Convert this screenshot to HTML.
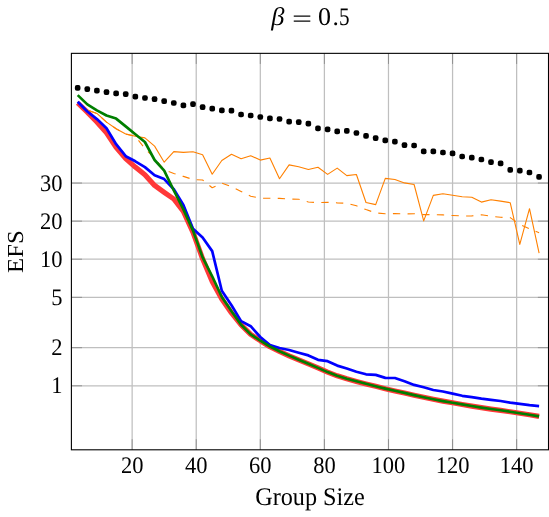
<!DOCTYPE html>
<html><head><meta charset="utf-8"><title>chart</title>
<style>
html,body{margin:0;padding:0;background:#fff;}
body{width:549px;height:517px;overflow:hidden;font-family:"Liberation Serif",serif;}
svg{display:block;}
</style></head><body>
<svg width="549" height="517" viewBox="0 0 549 517">
<rect width="549" height="517" fill="#fff"/>
<g stroke="#bfbfbf" stroke-width="1.25" fill="none">
<line x1="132.14" y1="53.35" x2="132.14" y2="449.8"/>
<line x1="196.22" y1="53.35" x2="196.22" y2="449.8"/>
<line x1="260.31" y1="53.35" x2="260.31" y2="449.8"/>
<line x1="324.39" y1="53.35" x2="324.39" y2="449.8"/>
<line x1="388.48" y1="53.35" x2="388.48" y2="449.8"/>
<line x1="452.56" y1="53.35" x2="452.56" y2="449.8"/>
<line x1="516.64" y1="53.35" x2="516.64" y2="449.8"/>
<line x1="71.4" y1="183.02" x2="548.5" y2="183.02"/>
<line x1="71.4" y1="221.12" x2="548.5" y2="221.12"/>
<line x1="71.4" y1="259.20" x2="548.5" y2="259.20"/>
<line x1="71.4" y1="297.32" x2="548.5" y2="297.32"/>
<line x1="71.4" y1="347.69" x2="548.5" y2="347.69"/>
<line x1="71.4" y1="385.79" x2="548.5" y2="385.79"/>
</g>
<g stroke="#808080" stroke-width="0.75" fill="none">
<line x1="132.14" y1="449.8" x2="132.14" y2="439.2"/>
<line x1="132.14" y1="53.35" x2="132.14" y2="63.95"/>
<line x1="196.22" y1="449.8" x2="196.22" y2="439.2"/>
<line x1="196.22" y1="53.35" x2="196.22" y2="63.95"/>
<line x1="260.31" y1="449.8" x2="260.31" y2="439.2"/>
<line x1="260.31" y1="53.35" x2="260.31" y2="63.95"/>
<line x1="324.39" y1="449.8" x2="324.39" y2="439.2"/>
<line x1="324.39" y1="53.35" x2="324.39" y2="63.95"/>
<line x1="388.48" y1="449.8" x2="388.48" y2="439.2"/>
<line x1="388.48" y1="53.35" x2="388.48" y2="63.95"/>
<line x1="452.56" y1="449.8" x2="452.56" y2="439.2"/>
<line x1="452.56" y1="53.35" x2="452.56" y2="63.95"/>
<line x1="516.64" y1="449.8" x2="516.64" y2="439.2"/>
<line x1="516.64" y1="53.35" x2="516.64" y2="63.95"/>
<line x1="71.4" y1="183.02" x2="82.0" y2="183.02"/>
<line x1="548.5" y1="183.02" x2="537.9" y2="183.02"/>
<line x1="71.4" y1="221.12" x2="82.0" y2="221.12"/>
<line x1="548.5" y1="221.12" x2="537.9" y2="221.12"/>
<line x1="71.4" y1="259.20" x2="82.0" y2="259.20"/>
<line x1="548.5" y1="259.20" x2="537.9" y2="259.20"/>
<line x1="71.4" y1="297.32" x2="82.0" y2="297.32"/>
<line x1="548.5" y1="297.32" x2="537.9" y2="297.32"/>
<line x1="71.4" y1="347.69" x2="82.0" y2="347.69"/>
<line x1="548.5" y1="347.69" x2="537.9" y2="347.69"/>
<line x1="71.4" y1="385.79" x2="82.0" y2="385.79"/>
<line x1="548.5" y1="385.79" x2="537.9" y2="385.79"/>
</g>
<g fill="none" stroke-linejoin="round">
<polyline points="77.7,103.0 87.3,112.1 96.9,122.0 106.5,132.8 116.1,147.4 125.7,158.6 135.3,167.1 144.9,174.7 154.6,185.4 164.2,192.3 173.8,199.0 183.4,211.5 193.0,232.3 202.6,258.8 212.2,281.4 221.8,299.0 231.5,313.0 241.1,324.9 250.7,334.4 260.3,340.7 269.9,346.7 279.5,351.4 289.1,355.8 298.7,359.9 308.4,363.8 318.0,367.9 327.6,372.1 337.2,375.8 346.8,378.8 356.4,381.4 366.0,383.9 375.7,386.2 385.3,388.7 394.9,390.9 404.5,393.0 414.1,395.2 423.7,397.3 433.3,399.3 442.9,401.1 452.6,402.8 462.2,404.5 471.8,406.1 481.4,407.6 491.0,409.1 500.6,410.4 510.2,411.8 519.8,413.2 529.5,414.8 539.1,416.4" stroke="#ff3838" stroke-width="5.15"/>
<polyline points="77.7,102.0 87.3,110.0 96.9,113.4 106.5,122.1 116.1,128.7 125.7,134.0 135.3,136.3 144.9,137.9 154.6,146.1 164.2,162.2 173.8,151.6 183.4,152.4 193.0,151.8 202.6,154.7 212.2,174.3 221.8,160.5 231.5,154.2 241.1,158.8 250.7,155.7 260.3,160.1 269.9,158.0 279.5,178.7 289.1,164.9 298.7,166.8 308.4,169.5 318.0,167.3 327.6,174.4 337.2,168.1 346.8,175.6 356.4,174.5 366.0,202.5 375.7,204.6 385.3,178.4 394.9,179.5 404.5,182.9 414.1,184.5 423.7,220.9 433.3,195.4 442.9,193.8 452.6,195.3 462.2,196.7 471.8,197.3 481.4,202.1 491.0,199.7 500.6,201.1 510.2,202.7 519.8,244.4 529.5,208.7 539.1,253.1" stroke="#ff8000" stroke-width="1.1"/>
<polyline points="77.7,102.0 87.3,110.0 96.9,113.4 106.5,122.1 116.1,128.7 125.7,134.0 135.3,136.3 144.9,148.6 154.6,158.2 164.2,169.9 173.8,173.5 183.4,176.4 193.0,179.5 202.6,180.0 212.2,187.8 221.8,183.1 231.5,186.7 241.1,191.5 250.7,196.2 260.3,198.2 269.9,198.2 279.5,198.4 289.1,199.0 298.7,199.3 308.4,202.0 318.0,202.6 327.6,202.3 337.2,202.9 346.8,203.2 356.4,205.8 366.0,209.6 375.7,212.9 385.3,213.8 394.9,213.6 404.5,214.0 414.1,213.7 423.7,214.6 433.3,214.7 442.9,214.9 452.6,215.5 462.2,216.0 471.8,215.9 481.4,214.8 491.0,216.2 500.6,217.3 510.2,217.6 519.8,224.3 529.5,228.9 539.1,232.7" stroke="#ff8000" stroke-width="1.1" stroke-dasharray="7.33 7.33" stroke-dashoffset="0"/>
<polyline points="77.7,101.7 87.3,111.5 96.9,119.1 106.5,128.2 116.1,144.2 125.7,156.2 135.3,161.3 144.9,167.1 154.6,175.3 164.2,179.1 173.8,189.2 183.4,205.0 193.0,228.7 202.6,237.5 212.2,251.1 221.8,290.7 231.5,305.2 241.1,321.1 250.7,326.2 260.3,337.0 269.9,345.1 279.5,348.0 289.1,350.0 298.7,352.8 308.4,355.4 318.0,359.8 327.6,361.2 337.2,365.6 346.8,368.5 356.4,371.7 366.0,374.3 375.7,374.9 385.3,377.9 394.9,378.0 404.5,381.2 414.1,384.9 423.7,387.3 433.3,390.0 442.9,391.5 452.6,393.6 462.2,395.8 471.8,397.2 481.4,398.7 491.0,399.8 500.6,401.0 510.2,402.7 519.8,403.9 529.5,405.2 539.1,406.1" stroke="#0000ff" stroke-width="2.7"/>
<polyline points="77.7,95.1 87.3,104.4 96.9,110.4 106.5,115.5 116.1,118.6 125.7,126.4 135.3,134.3 144.9,142.0 154.6,160.0 164.2,170.6 173.8,190.5 183.4,209.4 193.0,230.6 202.6,257.4 212.2,276.3 221.8,297.0 231.5,311.3 241.1,324.7 250.7,334.4 260.3,340.6 269.9,346.5 279.5,351.2 289.1,355.6 298.7,359.8 308.4,363.8 318.0,367.9 327.6,372.1 337.2,375.8 346.8,378.7 356.4,381.3 366.0,383.8 375.7,386.2 385.3,388.6 394.9,390.8 404.5,392.9 414.1,395.1 423.7,397.3 433.3,399.3 442.9,401.1 452.6,402.8 462.2,404.4 471.8,406.0 481.4,407.6 491.0,409.0 500.6,410.3 510.2,411.7 519.8,413.2 529.5,414.7 539.1,416.4" stroke="#007f00" stroke-width="2.65"/>
</g>
<g fill="#000">
<rect x="74.86" y="84.95" width="5.6" height="5.7" rx="2.0" ry="2.0"/>
<rect x="84.47" y="86.25" width="5.6" height="5.7" rx="2.0" ry="2.0"/>
<rect x="94.09" y="87.85" width="5.6" height="5.7" rx="2.0" ry="2.0"/>
<rect x="103.70" y="89.35" width="5.6" height="5.7" rx="2.0" ry="2.0"/>
<rect x="113.31" y="90.55" width="5.6" height="5.7" rx="2.0" ry="2.0"/>
<rect x="122.92" y="91.25" width="5.6" height="5.7" rx="2.0" ry="2.0"/>
<rect x="132.54" y="93.75" width="5.6" height="5.7" rx="2.0" ry="2.0"/>
<rect x="142.15" y="95.15" width="5.6" height="5.7" rx="2.0" ry="2.0"/>
<rect x="151.76" y="96.35" width="5.6" height="5.7" rx="2.0" ry="2.0"/>
<rect x="161.37" y="98.35" width="5.6" height="5.7" rx="2.0" ry="2.0"/>
<rect x="170.99" y="100.15" width="5.6" height="5.7" rx="2.0" ry="2.0"/>
<rect x="180.60" y="102.55" width="5.6" height="5.7" rx="2.0" ry="2.0"/>
<rect x="190.21" y="101.35" width="5.6" height="5.7" rx="2.0" ry="2.0"/>
<rect x="199.82" y="104.35" width="5.6" height="5.7" rx="2.0" ry="2.0"/>
<rect x="209.44" y="105.75" width="5.6" height="5.7" rx="2.0" ry="2.0"/>
<rect x="219.05" y="107.45" width="5.6" height="5.7" rx="2.0" ry="2.0"/>
<rect x="228.66" y="107.85" width="5.6" height="5.7" rx="2.0" ry="2.0"/>
<rect x="238.27" y="111.65" width="5.6" height="5.7" rx="2.0" ry="2.0"/>
<rect x="247.89" y="112.65" width="5.6" height="5.7" rx="2.0" ry="2.0"/>
<rect x="257.50" y="114.15" width="5.6" height="5.7" rx="2.0" ry="2.0"/>
<rect x="267.11" y="115.55" width="5.6" height="5.7" rx="2.0" ry="2.0"/>
<rect x="276.72" y="116.15" width="5.6" height="5.7" rx="2.0" ry="2.0"/>
<rect x="286.34" y="118.85" width="5.6" height="5.7" rx="2.0" ry="2.0"/>
<rect x="295.95" y="119.25" width="5.6" height="5.7" rx="2.0" ry="2.0"/>
<rect x="305.56" y="120.75" width="5.6" height="5.7" rx="2.0" ry="2.0"/>
<rect x="315.18" y="125.45" width="5.6" height="5.7" rx="2.0" ry="2.0"/>
<rect x="324.79" y="126.45" width="5.6" height="5.7" rx="2.0" ry="2.0"/>
<rect x="334.40" y="128.45" width="5.6" height="5.7" rx="2.0" ry="2.0"/>
<rect x="344.01" y="128.05" width="5.6" height="5.7" rx="2.0" ry="2.0"/>
<rect x="353.63" y="130.15" width="5.6" height="5.7" rx="2.0" ry="2.0"/>
<rect x="363.24" y="133.05" width="5.6" height="5.7" rx="2.0" ry="2.0"/>
<rect x="372.85" y="135.25" width="5.6" height="5.7" rx="2.0" ry="2.0"/>
<rect x="382.46" y="137.45" width="5.6" height="5.7" rx="2.0" ry="2.0"/>
<rect x="392.08" y="138.85" width="5.6" height="5.7" rx="2.0" ry="2.0"/>
<rect x="401.69" y="142.25" width="5.6" height="5.7" rx="2.0" ry="2.0"/>
<rect x="411.30" y="142.65" width="5.6" height="5.7" rx="2.0" ry="2.0"/>
<rect x="420.91" y="148.45" width="5.6" height="5.7" rx="2.0" ry="2.0"/>
<rect x="430.53" y="148.45" width="5.6" height="5.7" rx="2.0" ry="2.0"/>
<rect x="440.14" y="149.65" width="5.6" height="5.7" rx="2.0" ry="2.0"/>
<rect x="449.75" y="150.55" width="5.6" height="5.7" rx="2.0" ry="2.0"/>
<rect x="459.36" y="153.65" width="5.6" height="5.7" rx="2.0" ry="2.0"/>
<rect x="468.98" y="154.85" width="5.6" height="5.7" rx="2.0" ry="2.0"/>
<rect x="478.59" y="156.65" width="5.6" height="5.7" rx="2.0" ry="2.0"/>
<rect x="488.20" y="159.25" width="5.6" height="5.7" rx="2.0" ry="2.0"/>
<rect x="497.81" y="160.45" width="5.6" height="5.7" rx="2.0" ry="2.0"/>
<rect x="507.43" y="167.05" width="5.6" height="5.7" rx="2.0" ry="2.0"/>
<rect x="517.04" y="167.85" width="5.6" height="5.7" rx="2.0" ry="2.0"/>
<rect x="526.65" y="169.65" width="5.6" height="5.7" rx="2.0" ry="2.0"/>
<rect x="536.26" y="174.05" width="5.6" height="5.7" rx="2.0" ry="2.0"/>
</g>
<rect x="71.4" y="53.35" width="477.1" height="396.45" fill="none" stroke="#000" stroke-width="1.1"/>
<g font-family="'Liberation Serif', serif" fill="#000" opacity="0.999" style="text-rendering:geometricPrecision">
<text transform="translate(132.14,473.0) scale(0.95,1)" font-size="23.7" text-anchor="middle">20</text>
<text transform="translate(196.22,473.0) scale(0.95,1)" font-size="23.7" text-anchor="middle">40</text>
<text transform="translate(260.31,473.0) scale(0.95,1)" font-size="23.7" text-anchor="middle">60</text>
<text transform="translate(324.39,473.0) scale(0.95,1)" font-size="23.7" text-anchor="middle">80</text>
<text transform="translate(388.48,473.0) scale(0.95,1)" font-size="23.7" text-anchor="middle">100</text>
<text transform="translate(452.56,473.0) scale(0.95,1)" font-size="23.7" text-anchor="middle">120</text>
<text transform="translate(516.64,473.0) scale(0.95,1)" font-size="23.7" text-anchor="middle">140</text>
<text transform="translate(62.6,190.62) scale(0.95,1)" font-size="23.7" text-anchor="end">30</text>
<text transform="translate(62.6,228.72) scale(0.95,1)" font-size="23.7" text-anchor="end">20</text>
<text transform="translate(62.6,266.80) scale(0.95,1)" font-size="23.7" text-anchor="end">10</text>
<text transform="translate(62.6,304.92) scale(0.95,1)" font-size="23.7" text-anchor="end">5</text>
<text transform="translate(62.6,355.29) scale(0.95,1)" font-size="23.7" text-anchor="end">2</text>
<text transform="translate(62.6,393.39) scale(0.95,1)" font-size="23.7" text-anchor="end">1</text>
<text transform="translate(310,504.9) scale(0.953,1)" font-size="25.4" text-anchor="middle">Group Size</text>
<text transform="translate(23.3,251.6) rotate(-90) scale(1.08,1)" font-size="22.9" text-anchor="middle">EFS</text>
<text x="277.9" y="25" font-size="25.5" font-style="italic" text-anchor="middle" textLength="13.2" lengthAdjust="spacingAndGlyphs">β</text>
<text transform="translate(301.9,26.9) scale(1.40,0.994)" font-size="25.4" text-anchor="middle">=</text>
<text x="318.1" y="25" font-size="25.4" textLength="13.0" lengthAdjust="spacingAndGlyphs">0</text>
<text x="332.5" y="25" font-size="25.4">.</text>
<text x="339.0" y="25" font-size="25.4" textLength="10.6" lengthAdjust="spacingAndGlyphs">5</text>
</g>
</svg>
</body></html>
